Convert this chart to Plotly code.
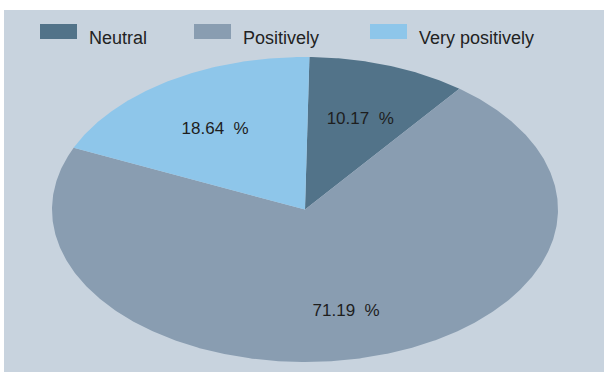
import numpy as np
import plotly.graph_objects as go

# Survey responses
categories = ["Neutral", "Positively", "Very positively"]
counts = [6, 42, 11]
colors = ["#527389", "#899db1", "#8ec6ea"]

W, H = 604, 372
CX, CY = 305.0, 209.5      # ellipse centre (px)
RX, RY = 253.0, 152.5      # ellipse radii (px)
ROT = 1.0                  # start angle, degrees clockwise from top
LABEL_R = 0.66
LABEL_DY = 5

total = sum(counts)
shares = [c / total for c in counts]

fig = go.Figure()

start = ROT
label_x, label_y, label_txt = [], [], []
for name, share, col in zip(categories, shares, colors):
    sweep = share * 360.0
    t = np.radians(np.linspace(start, start + sweep, max(int(sweep * 2), 8)))
    xs = np.concatenate([[CX], CX + RX * np.sin(t), [CX]])
    ys = np.concatenate([[CY], CY - RY * np.cos(t), [CY]])
    fig.add_trace(go.Scatter(
        x=xs, y=ys, fill="toself", fillcolor=col, mode="lines",
        line=dict(width=0, color=col), name=name, showlegend=False,
        hoverinfo="name",
    ))
    mid = np.radians(start + sweep / 2)
    label_x.append(CX + LABEL_R * RX * np.sin(mid))
    label_y.append(CY - LABEL_R * RY * np.cos(mid) + LABEL_DY)
    label_txt.append(f"{share * 100:.2f}\u00a0\u00a0%")
    start += sweep

fig.add_trace(go.Scatter(
    x=label_x, y=label_y, text=label_txt, mode="text",
    textposition="middle center", showlegend=False, hoverinfo="skip",
    textfont=dict(family="Liberation Sans, Arial", size=17, color="#1e1e1e"),
))

shapes = [dict(type="rect", xref="x", yref="y", x0=4, x1=604, y0=10, y1=372,
               fillcolor="#c8d3de", line=dict(width=0), layer="below")]
annotations = []
legend_x = [40, 194, 370]
for name, col, lx in zip(categories, colors, legend_x):
    shapes.append(dict(type="rect", xref="x", yref="y", x0=lx, x1=lx + 37,
                       y0=24, y1=39, fillcolor=col, line=dict(width=0)))
    annotations.append(dict(x=lx + 47, y=37.5, xref="x", yref="y", text=name,
                            showarrow=False, xanchor="left", yanchor="middle",
                            font=dict(family="Liberation Sans, Arial", size=18,
                                      color="#222222")))

fig.update_layout(
    width=W, height=H,
    margin=dict(l=0, r=0, t=0, b=0),
    paper_bgcolor="white", plot_bgcolor="rgba(0,0,0,0)",
    xaxis=dict(range=[0, W], visible=False, fixedrange=True),
    yaxis=dict(range=[H, 0], visible=False, fixedrange=True),
    shapes=shapes, annotations=annotations,
    showlegend=False,
)

fig.write_html("out.html")
